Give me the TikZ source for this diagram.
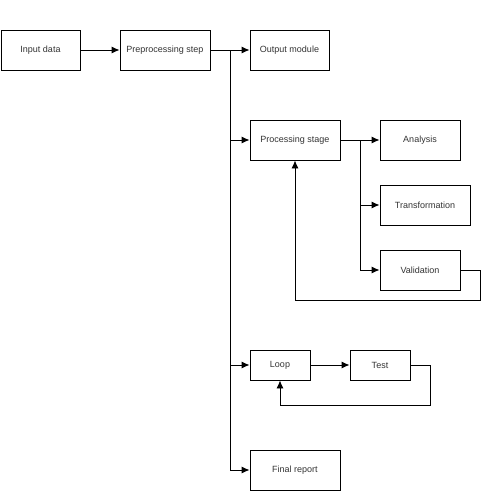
\documentclass[tikz,border=0pt]{standalone}
\usepackage{fontspec}
\setmainfont{Liberation Sans}
\usetikzlibrary{arrows.meta}
\begin{document}
\begin{tikzpicture}[x=1pt,y=-1pt,
  box/.style={draw,line width=0.9pt,rectangle,inner sep=0pt,font=\fontsize{9}{10}\selectfont,text=black!80},
  conn/.style={line width=0.9pt},
  arr/.style={conn,-{Latex[length=8pt,width=7pt]}}]
\useasboundingbox (0,0) rectangle (489,491);
\node[box,minimum width=79pt,minimum height=40pt] (b1) at (40.5,50) {Input data};
\node[box,minimum width=90pt,minimum height=40pt] (b2) at (165,50) {Preprocessing step};
\node[box,minimum width=79pt,minimum height=40pt] (b3) at (289.5,50) {Output module};
\node[box,minimum width=90pt,minimum height=40pt] (b4) at (295,140) {Processing stage};
\node[box,minimum width=80pt,minimum height=40pt] (b5) at (420,140) {Analysis};
\node[box,minimum width=90pt,minimum height=40pt] (b6) at (425,205) {Transformation};
\node[box,minimum width=80pt,minimum height=40pt] (b7) at (420,270) {Validation};
\node[box,minimum width=60pt,minimum height=30pt] (b8) at (280,365) {Loop};
\node[box,minimum width=60pt,minimum height=30pt] (b9) at (380,365) {Test};
\node[box,minimum width=90pt,minimum height=40pt] (b10) at (295,470) {Final report};
\coordinate (j1) at (230,50);
\coordinate (j2) at (230,470);
\coordinate (k1) at (360,140);
\coordinate (k2) at (360,270);
\coordinate (r7) at (480,300);
\coordinate (r9) at (430,405);
\draw[arr] (b1.east) -- (b2.west);
\draw[conn] (b2.east) -- (j1) -- (j2);
\draw[arr] (j1) -- (b3.west);
\draw[arr] (j1 |- b4.west) -- (b4.west);
\draw[arr] (j1 |- b8.west) -- (b8.west);
\draw[arr] (j2) -- (b10.west);
\draw[conn] (b4.east) -- (k1) -- (k2);
\draw[arr] (k1) -- (b5.west);
\draw[arr] (k1 |- b6.west) -- (b6.west);
\draw[arr] (k2) -- (b7.west);
\draw[arr] (b7.east) -| (r7) -| (b4.south);
\draw[arr] (b8.east) -- (b9.west);
\draw[arr] (b9.east) -| (r9) -| (b8.south);
\end{tikzpicture}
\end{document}
